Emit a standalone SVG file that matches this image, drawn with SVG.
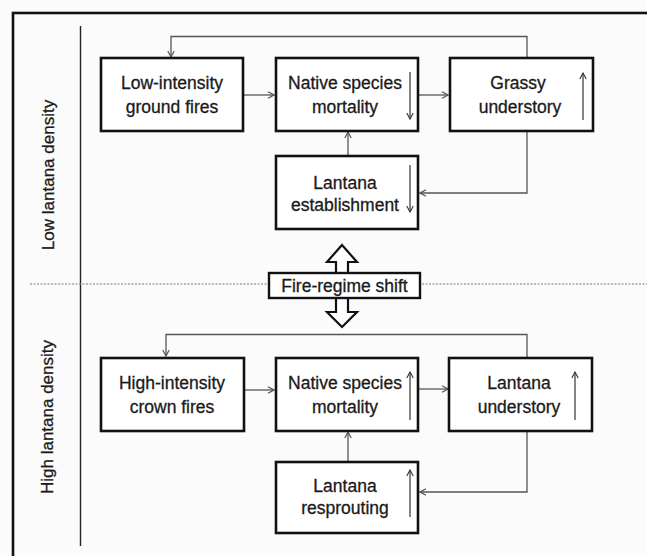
<svg xmlns="http://www.w3.org/2000/svg" width="647" height="556" viewBox="0 0 647 556">
<defs>
<marker id="ah" markerWidth="8" markerHeight="8" refX="7" refY="4" orient="auto" markerUnits="userSpaceOnUse">
<path d="M1,0.8 L7,4 L1,7.2" fill="none" stroke="#555" stroke-width="1.2"/>
</marker>
<marker id="ih" markerWidth="8" markerHeight="8" refX="7" refY="4" orient="auto" markerUnits="userSpaceOnUse">
<path d="M1,0.8 L7,4 L1,7.2" fill="none" stroke="#333" stroke-width="1.1"/>
</marker>
<style>
.box{fill:#fff;stroke:#111;stroke-width:2.6}
.t{font-family:"Liberation Sans",Arial,sans-serif;font-size:17.5px;fill:#1a1a1a;stroke:#1a1a1a;stroke-width:0.3;text-anchor:middle}
.lbl{font-family:"Liberation Sans",Arial,sans-serif;font-size:17px;fill:#1a1a1a;stroke:#1a1a1a;stroke-width:0.3;text-anchor:middle}
.c{fill:none;stroke:#555;stroke-width:1.3;marker-end:url(#ah)}
.ind{fill:none;stroke:#333;stroke-width:1.2;marker-end:url(#ih)}
.big{fill:#fff;stroke:#111;stroke-width:2.2;stroke-linejoin:miter}
</style>
</defs>
<rect x="0" y="0" width="647" height="556" fill="#fbfbfb"/>
<rect x="13" y="13" width="700" height="600" fill="none" stroke="#111" stroke-width="2.6"/>
<g id="frame-lines">
<line x1="80.5" y1="26" x2="80.5" y2="546" stroke="#222" stroke-width="1.4"/>
<line x1="30" y1="284" x2="647" y2="284" stroke="#777" stroke-width="1.2" stroke-dasharray="2,1.5"/>
<text class="lbl" transform="translate(54,175) rotate(-90)">Low lantana density</text>
<text class="lbl" transform="translate(53,417) rotate(-90)">High lantana density</text>
</g>
<g id="connectors">
<path class="c" d="M527,58 V36.5 H171 V57"/>
<path class="c" d="M243,95 H274"/>
<path class="c" d="M418,95 H448"/>
<path class="c" d="M348,156 V132"/>
<path class="c" d="M527,131 V193 H420"/>
<path class="c" d="M527,357 V334.5 H166 V356"/>
<path class="c" d="M244,390 H274"/>
<path class="c" d="M418,389 H448"/>
<path class="c" d="M348,462 V432"/>
<path class="c" d="M527,431 V492 H420"/>
</g>
<g id="low-fires">
<rect class="box" x="101" y="58" width="142" height="73"/>
<text class="t" x="172" y="89">Low-intensity</text>
<text class="t" x="172" y="113">ground fires</text>
</g>
<g id="low-mortality">
<rect class="box" x="276" y="58" width="142" height="73"/>
<text class="t" x="345" y="89">Native species</text>
<text class="t" x="345" y="113">mortality</text>
<path class="ind" d="M410,72 V119"/>
</g>
<g id="grassy">
<rect class="box" x="450" y="58" width="143" height="73"/>
<text class="t" x="518" y="89">Grassy</text>
<text class="t" x="520" y="113">understory</text>
<path class="ind" d="M583,120 V73"/>
</g>
<g id="lantana-establishment">
<rect class="box" x="276" y="156" width="142" height="73"/>
<text class="t" x="345" y="189">Lantana</text>
<text class="t" x="345" y="211">establishment</text>
<path class="ind" d="M410,165 V212"/>
</g>
<g id="fire-regime-shift">
<path class="big" d="M342,245 L357,262 L348,262 L348,273 L336,273 L336,262 L327,262 Z"/>
<path class="big" d="M336,298 L348,298 L348,312 L357,312 L342,327 L327,312 L336,312 Z"/>
<rect x="269" y="273" width="151" height="25" fill="#fff" stroke="#111" stroke-width="2.4"/>
<text class="t" x="344.5" y="292">Fire-regime shift</text>
</g>
<g id="high-fires">
<rect class="box" x="101" y="358" width="143" height="73"/>
<text class="t" x="172" y="389">High-intensity</text>
<text class="t" x="172" y="413">crown fires</text>
</g>
<g id="high-mortality">
<rect class="box" x="276" y="358" width="142" height="73"/>
<text class="t" x="345" y="389">Native species</text>
<text class="t" x="345" y="413">mortality</text>
<path class="ind" d="M410,420 V372"/>
</g>
<g id="lantana-understory">
<rect class="box" x="449" y="358" width="143" height="73"/>
<text class="t" x="519" y="389">Lantana</text>
<text class="t" x="519" y="413">understory</text>
<path class="ind" d="M575,420 V372"/>
</g>
<g id="lantana-resprouting">
<rect class="box" x="276" y="462" width="142" height="71"/>
<text class="t" x="345" y="492">Lantana</text>
<text class="t" x="345" y="514">resprouting</text>
<path class="ind" d="M410,517 V470"/>
</g>
</svg>
